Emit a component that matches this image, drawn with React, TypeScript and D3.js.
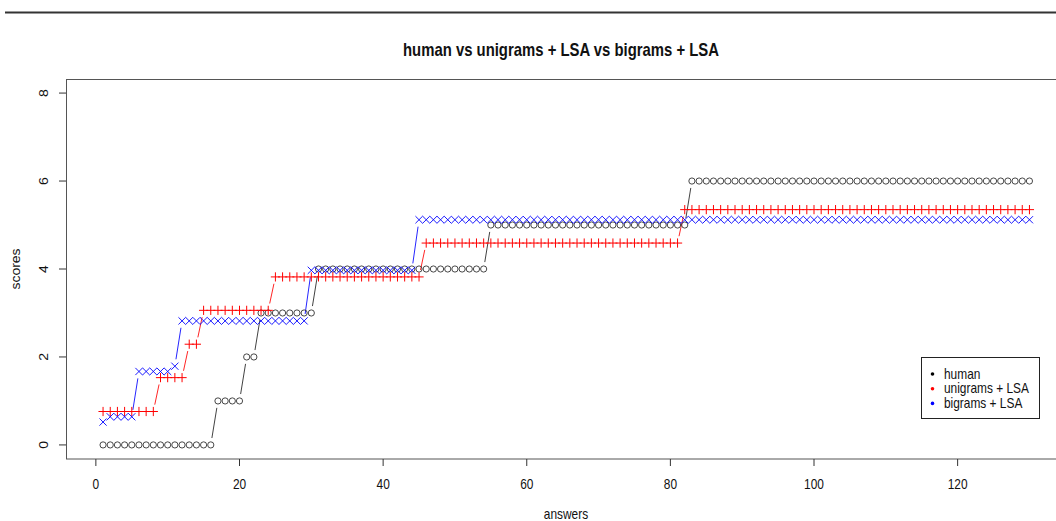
import React from "react";
import * as d3 from "d3";

// scores per answer (answers 1..130)
const human = [
  0, 0, 0, 0, 0, 0, 0, 0, 0, 0,
  0, 0, 0, 0, 0, 0, 1, 1, 1, 1,
  2, 2, 3, 3, 3, 3, 3, 3, 3, 3,
  4, 4, 4, 4, 4, 4, 4, 4, 4, 4,
  4, 4, 4, 4, 4, 4, 4, 4, 4, 4,
  4, 4, 4, 4, 5, 5, 5, 5, 5, 5,
  5, 5, 5, 5, 5, 5, 5, 5, 5, 5,
  5, 5, 5, 5, 5, 5, 5, 5, 5, 5,
  5, 5, 6, 6, 6, 6, 6, 6, 6, 6,
  6, 6, 6, 6, 6, 6, 6, 6, 6, 6,
  6, 6, 6, 6, 6, 6, 6, 6, 6, 6,
  6, 6, 6, 6, 6, 6, 6, 6, 6, 6,
  6, 6, 6, 6, 6, 6, 6, 6, 6, 6,
];

const unigramsLSA = [
  0.76, 0.76, 0.76, 0.76, 0.76, 0.76, 0.76, 0.76, 1.53, 1.53,
  1.53, 1.53, 2.29, 2.29, 3.06, 3.06, 3.06, 3.06, 3.06, 3.06,
  3.06, 3.06, 3.06, 3.06, 3.82, 3.82, 3.82, 3.82, 3.82, 3.82,
  3.82, 3.82, 3.82, 3.82, 3.82, 3.82, 3.82, 3.82, 3.82, 3.82,
  3.82, 3.82, 3.82, 3.82, 3.82, 4.59, 4.59, 4.59, 4.59, 4.59,
  4.59, 4.59, 4.59, 4.59, 4.59, 4.59, 4.59, 4.59, 4.59, 4.59,
  4.59, 4.59, 4.59, 4.59, 4.59, 4.59, 4.59, 4.59, 4.59, 4.59,
  4.59, 4.59, 4.59, 4.59, 4.59, 4.59, 4.59, 4.59, 4.59, 4.59,
  4.59, 5.35, 5.35, 5.35, 5.35, 5.35, 5.35, 5.35, 5.35, 5.35,
  5.35, 5.35, 5.35, 5.35, 5.35, 5.35, 5.35, 5.35, 5.35, 5.35,
  5.35, 5.35, 5.35, 5.35, 5.35, 5.35, 5.35, 5.35, 5.35, 5.35,
  5.35, 5.35, 5.35, 5.35, 5.35, 5.35, 5.35, 5.35, 5.35, 5.35,
  5.35, 5.35, 5.35, 5.35, 5.35, 5.35, 5.35, 5.35, 5.35, 5.35,
];

const bigramsLSA = [
  0.52, 0.64, 0.64, 0.64, 0.64, 1.67, 1.67, 1.67, 1.67, 1.67,
  1.79, 2.82, 2.82, 2.82, 2.82, 2.82, 2.82, 2.82, 2.82, 2.82,
  2.82, 2.82, 2.82, 2.82, 2.82, 2.82, 2.82, 2.82, 2.82, 3.97,
  3.97, 3.97, 3.97, 3.97, 3.97, 3.97, 3.97, 3.97, 3.97, 3.97,
  3.97, 3.97, 3.97, 3.97, 5.12, 5.12, 5.12, 5.12, 5.12, 5.12,
  5.12, 5.12, 5.12, 5.12, 5.12, 5.12, 5.12, 5.12, 5.12, 5.12,
  5.12, 5.12, 5.12, 5.12, 5.12, 5.12, 5.12, 5.12, 5.12, 5.12,
  5.12, 5.12, 5.12, 5.12, 5.12, 5.12, 5.12, 5.12, 5.12, 5.12,
  5.12, 5.12, 5.12, 5.12, 5.12, 5.12, 5.12, 5.12, 5.12, 5.12,
  5.12, 5.12, 5.12, 5.12, 5.12, 5.12, 5.12, 5.12, 5.12, 5.12,
  5.12, 5.12, 5.12, 5.12, 5.12, 5.12, 5.12, 5.12, 5.12, 5.12,
  5.12, 5.12, 5.12, 5.12, 5.12, 5.12, 5.12, 5.12, 5.12, 5.12,
  5.12, 5.12, 5.12, 5.12, 5.12, 5.12, 5.12, 5.12, 5.12, 5.12,
];

const seriesNames = ["human", "unigrams + LSA", "bigrams + LSA"];
const seriesColors = ["#000000", "#ff0000", "#0000ff"];
const xTicks = [0, 20, 40, 60, 80, 100, 120];
const yTicks = [0, 2, 4, 6, 8];
const yLimits = [0, 8];

const W = 1056;
const H = 521;
const FONT = "'Liberation Sans', Arial, sans-serif";
const SQUEEZE = 0.85; // the text in the picture is a bit narrow

// R style padding of 4% on each side
const pad = (lo: number, hi: number) => {
  const d = (hi - lo) * 0.04;
  return [lo - d, hi + d];
};

const Txt = (p: { x: number; y: number; size: number; rot?: boolean; bold?: boolean; anchor?: string; children: any }) => {
  const t = p.rot
    ? `translate(${p.x},${p.y}) rotate(-90) scale(1,${SQUEEZE})`
    : `translate(${p.x},${p.y}) scale(${SQUEEZE},1)`;
  return (
    <text
      transform={t}
      fontFamily={FONT}
      fontSize={p.size}
      fontWeight={p.bold ? "bold" : "normal"}
      textAnchor={p.anchor || "middle"}
      fill="#111"
    >
      {p.children}
    </text>
  );
};

export default function App() {
  const answers = human.map((_, i) => i + 1);
  const xDom = pad(d3.min(answers)!, d3.max(answers)!);
  const x = d3.scaleLinear().domain(xDom).range([66, 1066.5]);
  const y = d3.scaleLinear().domain(pad(yLimits[0], yLimits[1])).range([459, 79]);

  const all = [human, unigramsLSA, bigramsLSA];

  // type = "b": segments with a gap around each point
  const gap = 7;
  const segs = (vals: number[]) => {
    const out: any[] = [];
    for (let i = 1; i < vals.length; i++) {
      const x0 = x(answers[i - 1]), y0 = y(vals[i - 1]);
      const x1 = x(answers[i]), y1 = y(vals[i]);
      const len = Math.hypot(x1 - x0, y1 - y0);
      if (len <= gap * 2) continue;
      const ux = (x1 - x0) / len, uy = (y1 - y0) / len;
      out.push([x0 + ux * gap, y0 + uy * gap, x1 - ux * gap, y1 - uy * gap]);
    }
    return out;
  };

  const marker = (k: number, cx: number, cy: number, key: number) => {
    const c = seriesColors[k];
    if (k === 0) return <circle key={key} cx={cx} cy={cy} r={3.1} fill="none" stroke="#333" strokeWidth={0.9} />;
    if (k === 1) {
      const s = 4.6;
      return <path key={key} d={`M${cx - s},${cy}H${cx + s}M${cx},${cy - s}V${cy + s}`} stroke={c} strokeWidth={1} />;
    }
    const s = 3.6;
    return (
      <path key={key} d={`M${cx - s},${cy - s}L${cx + s},${cy + s}M${cx - s},${cy + s}L${cx + s},${cy - s}`} stroke={c} strokeWidth={0.9} />
    );
  };

  return (
    <svg width={W} height={H} style={{ position: "absolute", left: 0, top: 0, background: "#fff" }}>
      <line x1={5} x2={W} y1={12.5} y2={12.5} stroke="#333" strokeWidth={2} />

      <Txt x={561} y={56} size={17.5} bold>
        human vs unigrams + LSA vs bigrams + LSA
      </Txt>

      {/* plot box */}
      <rect x={66.5} y={79.5} width={1000} height={379.5} fill="none" stroke="#555" strokeWidth={1} />

      {/* x axis */}
      {xTicks.map((t) => (
        <g key={t}>
          <line x1={x(t)} x2={x(t)} y1={459} y2={466} stroke="#333" />
          <Txt x={x(t)} y={488.5} size={14}>
            {t}
          </Txt>
        </g>
      ))}
      <Txt x={566} y={519} size={14}>
        answers
      </Txt>

      {/* y axis */}
      {yTicks.map((t) => (
        <g key={t}>
          <line x1={59} x2={66} y1={y(t)} y2={y(t)} stroke="#333" />
          <Txt x={48} y={y(t)} size={14} rot>
            {t}
          </Txt>
        </g>
      ))}
      <Txt x={20} y={269} size={14} rot>
        scores
      </Txt>

      {/* lines */}
      {all.map((vals, k) => (
        <g key={"l" + k} stroke={k === 0 ? "#222" : seriesColors[k]} strokeWidth={1} opacity={0.85}>
          {segs(vals).map((s, i) => (
            <line key={i} x1={s[0]} y1={s[1]} x2={s[2]} y2={s[3]} />
          ))}
        </g>
      ))}

      {/* points */}
      {all.map((vals, k) => (
        <g key={"p" + k}>{vals.map((v, i) => marker(k, x(answers[i]), y(v), i))}</g>
      ))}

      {/* legend */}
      <rect x={921.5} y={357.5} width={118} height={61} fill="#fff" stroke="#222" strokeWidth={1} />
      {seriesNames.map((n, i) => (
        <g key={n}>
          <circle cx={932.5} cy={374 + i * 14.7} r={1.8} fill={seriesColors[i]} />
          <Txt x={944} y={378.5 + i * 14.7} size={14} anchor="start">
            {n}
          </Txt>
        </g>
      ))}
    </svg>
  );
}
